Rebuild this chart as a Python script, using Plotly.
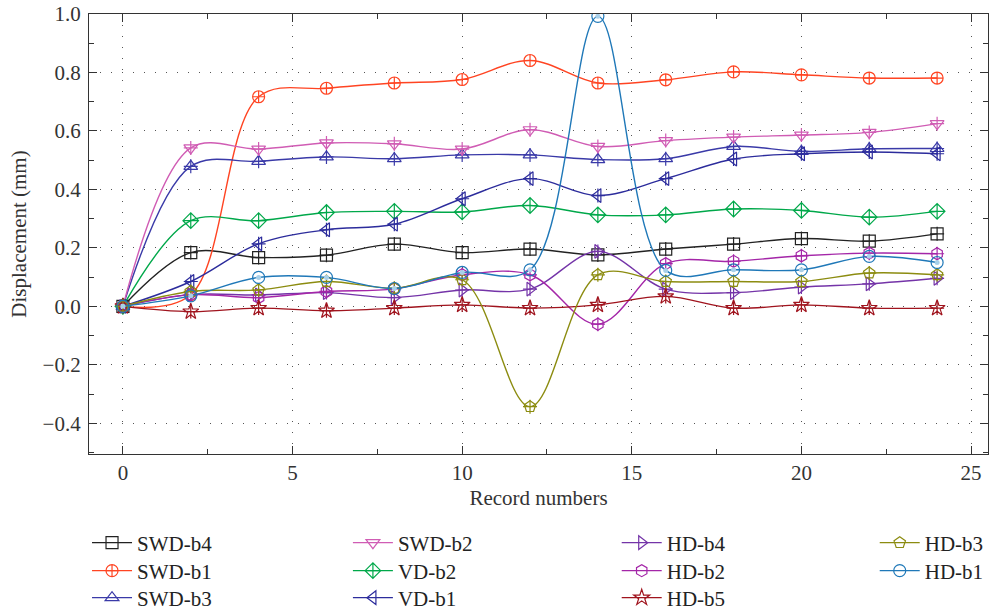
import plotly.graph_objects as go

record = [0, 2, 4, 6, 8, 10, 12, 14, 16, 18, 20, 22, 24]

swd_b4 = [0, 0.184, 0.167, 0.175, 0.213, 0.184, 0.196, 0.176, 0.196, 0.213, 0.232, 0.223, 0.248]
swd_b1 = [0, 0.040, 0.717, 0.746, 0.764, 0.776, 0.841, 0.764, 0.775, 0.802, 0.792, 0.781, 0.781]
swd_b3 = [0, 0.479, 0.496, 0.511, 0.505, 0.518, 0.518, 0.502, 0.505, 0.547, 0.530, 0.539, 0.540]
swd_b2 = [0, 0.542, 0.538, 0.559, 0.556, 0.538, 0.604, 0.547, 0.567, 0.579, 0.586, 0.595, 0.625]
vd_b2 = [0, 0.293, 0.293, 0.321, 0.325, 0.323, 0.345, 0.313, 0.313, 0.333, 0.328, 0.305, 0.325]
vd_b1 = [0, 0.085, 0.214, 0.262, 0.281, 0.368, 0.437, 0.379, 0.437, 0.504, 0.522, 0.528, 0.522]
hd_b4 = [0, 0.040, 0.039, 0.047, 0.030, 0.056, 0.059, 0.188, 0.059, 0.047, 0.066, 0.077, 0.096]
hd_b2 = [0, 0.040, 0.030, 0.051, 0.060, 0.108, 0.108, -0.061, 0.146, 0.154, 0.173, 0.182, 0.180]
hd_b5 = [0, -0.018, -0.006, -0.015, -0.006, 0.005, -0.006, 0.005, 0.034, -0.006, 0.005, -0.006, -0.006]
hd_b3 = [0, 0.051, 0.056, 0.085, 0.062, 0.091, -0.343, 0.108, 0.085, 0.085, 0.085, 0.114, 0.108]
hd_b1 = [0, 0.036, 0.099, 0.099, 0.061, 0.116, 0.125, 0.992, 0.123, 0.125, 0.125, 0.171, 0.150]

x_ticks = [0, 5, 10, 15, 20, 25]
y_ticks = [-0.4, -0.2, 0.0, 0.2, 0.4, 0.6, 0.8, 1.0]

# name, values, colour, symbol, needs cross overlay, legend column, legend row
series = [
    ("SWD-b4", swd_b4, "#222222", "square-open", True, 0, 0),
    ("SWD-b1", swd_b1, "#ff4422", "circle-cross-open", False, 0, 1),
    ("SWD-b3", swd_b3, "#3a3aa8", "triangle-up-open", True, 0, 2),
    ("SWD-b2", swd_b2, "#d05cb4", "triangle-down-open", True, 1, 0),
    ("VD-b2", vd_b2, "#00a84a", "diamond-cross-open", False, 1, 1),
    ("VD-b1", vd_b1, "#2c2c9c", "triangle-left-open", True, 1, 2),
    ("HD-b4", hd_b4, "#7434a8", "triangle-right-open", True, 2, 0),
    ("HD-b2", hd_b2, "#a426a8", "hexagon-open", True, 2, 1),
    ("HD-b5", hd_b5, "#a0141e", "star-open", True, 2, 2),
    ("HD-b3", hd_b3, "#8c8c10", "pentagon-open", True, 3, 0),
    ("HD-b1", hd_b1, "#1f78b8", "circle-open", False, 3, 1),
]

font_family = "Liberation Serif, Times New Roman, serif"
legend_cols_x = [-0.0022, 0.288, 0.587, 0.874]
legend_rows_y = [-0.2023, -0.2659, -0.3273]

fig = go.Figure()
legends = {}
for i, (name, vals, col, sym, cross, c, r) in enumerate(series):
    lid = "legend" if i == 0 else f"legend{i + 1}"
    legends[lid] = dict(
        x=legend_cols_x[c], y=legend_rows_y[r], xanchor="left", yanchor="middle",
        orientation="v", font=dict(size=21, family=font_family, color="#222"),
        bgcolor="rgba(0,0,0,0)", itemwidth=40,
    )
    fig.add_trace(go.Scatter(
        x=record, y=vals, name=name, mode="lines+markers",
        line=dict(color=col, width=1.4, shape="spline", smoothing=1.0),
        marker=dict(symbol=sym, size=12, color=col, line=dict(width=1.2, color=col)),
        legend=lid, legendgroup=name,
    ))
    if cross:
        fig.add_trace(go.Scatter(
            x=record, y=vals, mode="markers", showlegend=False, legendgroup=name,
            marker=dict(symbol="cross-thin-open", size=10, color=col, line=dict(width=1.2, color=col)),
            hoverinfo="skip",
        ))
    if name == "HD-b1":
        fig.add_trace(go.Scatter(
            x=record, y=vals, mode="markers", showlegend=False, legendgroup=name,
            marker=dict(symbol="circle", size=5, color="#a8d0ea"),
            hoverinfo="skip",
        ))

axis_common = dict(
    showline=True, linecolor="#333", linewidth=1.2, mirror="allticks",
    ticks="inside", ticklen=8, tickcolor="#333",
    showgrid=True, gridcolor="#555", gridwidth=1, griddash="1px,10px",
    zeroline=False, tickfont=dict(size=21, color="#333"),
)
fig.update_xaxes(range=[-1, 25.5], tickvals=x_ticks,
                 title=dict(text="Record numbers", font=dict(size=21, color="#333"), standoff=6),
                 minor=dict(dtick=2.5, tick0=0, ticks="inside", ticklen=5, tickcolor="#333", showgrid=False),
                 **axis_common)
fig.update_yaxes(range=[-0.505, 1.0], tickvals=y_ticks, tickformat=".1f", ticklabelstandoff=3,
                 title=dict(text="Displacement (mm)", font=dict(size=21, color="#333"), standoff=10),
                 minor=dict(dtick=0.1, tick0=0, ticks="inside", ticklen=5, tickcolor="#333", showgrid=False),
                 **axis_common)

fig.update_layout(
    width=991, height=610,
    margin=dict(l=89, r=3, t=14, b=156, autoexpand=False),
    paper_bgcolor="white", plot_bgcolor="white",
    font=dict(family=font_family, color="#333"),
    **legends,
)

fig.write_html("out.html")
